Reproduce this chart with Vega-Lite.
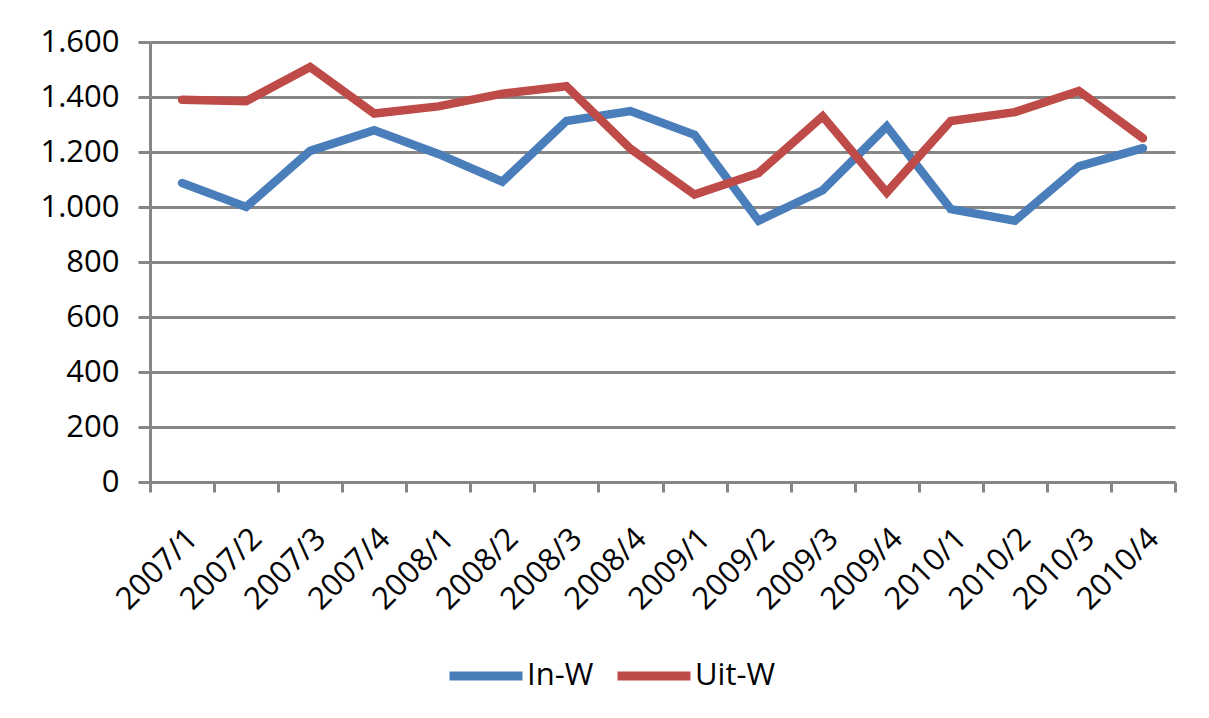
{
  "$schema": "https://vega.github.io/schema/vega-lite/v6.json",
  "width": 1025,
  "height": 440,
  "autosize": {"type": "none"},
  "padding": {"left": 150, "top": 42, "right": 34, "bottom": 236},
  "background": "white",
  "data": {
    "values": [
      {"period": "2007/1", "series": "In-W", "value": 1087},
      {"period": "2007/2", "series": "In-W", "value": 1000},
      {"period": "2007/3", "series": "In-W", "value": 1204},
      {"period": "2007/4", "series": "In-W", "value": 1279},
      {"period": "2008/1", "series": "In-W", "value": 1193},
      {"period": "2008/2", "series": "In-W", "value": 1092},
      {"period": "2008/3", "series": "In-W", "value": 1313},
      {"period": "2008/4", "series": "In-W", "value": 1349},
      {"period": "2009/1", "series": "In-W", "value": 1263},
      {"period": "2009/2", "series": "In-W", "value": 950},
      {"period": "2009/3", "series": "In-W", "value": 1061},
      {"period": "2009/4", "series": "In-W", "value": 1293},
      {"period": "2010/1", "series": "In-W", "value": 992},
      {"period": "2010/2", "series": "In-W", "value": 950},
      {"period": "2010/3", "series": "In-W", "value": 1148},
      {"period": "2010/4", "series": "In-W", "value": 1214},
      {"period": "2007/1", "series": "Uit-W", "value": 1390},
      {"period": "2007/2", "series": "Uit-W", "value": 1385},
      {"period": "2007/3", "series": "Uit-W", "value": 1509},
      {"period": "2007/4", "series": "Uit-W", "value": 1340},
      {"period": "2008/1", "series": "Uit-W", "value": 1366},
      {"period": "2008/2", "series": "Uit-W", "value": 1412},
      {"period": "2008/3", "series": "Uit-W", "value": 1439},
      {"period": "2008/4", "series": "Uit-W", "value": 1212},
      {"period": "2009/1", "series": "Uit-W", "value": 1045},
      {"period": "2009/2", "series": "Uit-W", "value": 1124},
      {"period": "2009/3", "series": "Uit-W", "value": 1330},
      {"period": "2009/4", "series": "Uit-W", "value": 1053},
      {"period": "2010/1", "series": "Uit-W", "value": 1313},
      {"period": "2010/2", "series": "Uit-W", "value": 1345},
      {"period": "2010/3", "series": "Uit-W", "value": 1422},
      {"period": "2010/4", "series": "Uit-W", "value": 1250}
    ]
  },
  "mark": {"type": "line", "strokeWidth": 8.5, "strokeCap": "round", "strokeJoin": "miter"},
  "encoding": {
    "x": {
      "field": "period",
      "type": "ordinal",
      "sort": null,
      "bandPosition": 0.5,
      "scale": {"type": "band", "paddingInner": 0, "paddingOuter": 0},
      "axis": {
        "title": null,
        "tickBand": "extent",
        "grid": false,
        "domainColor": "#868686",
        "domainWidth": 3,
        "tickColor": "#868686",
        "tickWidth": 3,
        "tickSize": 10,
        "labelAngle": -45,
        "labelAlign": "right",
        "labelBaseline": "top",
        "labelPadding": 31,
        "labelDx": 6,
        "labelFont": "Open Sans",
        "labelFontSize": 31,
        "labelColor": "black"
      }
    },
    "y": {
      "field": "value",
      "type": "quantitative",
      "scale": {"domain": [0, 1600], "nice": false},
      "axis": {
        "title": null,
        "values": [0, 200, 400, 600, 800, 1000, 1200, 1400, 1600],
        "labelExpr": "replace(format(datum.value, ','), ',', '.')",
        "domainColor": "#868686",
        "domainWidth": 3,
        "tickColor": "#868686",
        "tickWidth": 3,
        "tickSize": 12,
        "gridColor": "#868686",
        "gridWidth": 3,
        "labelPadding": 19,
        "labelFont": "Open Sans",
        "labelFontSize": 31,
        "labelColor": "black"
      }
    },
    "color": {
      "field": "series",
      "type": "nominal",
      "scale": {"domain": ["In-W", "Uit-W"], "range": ["#4A7EBB", "#BE4B48"]},
      "legend": {
        "title": null,
        "orient": "none",
        "direction": "horizontal",
        "legendX": 295,
        "legendY": 593,
        "symbolType": "stroke",
        "symbolSize": 5329,
        "symbolStrokeWidth": 9,
        "labelFont": "Open Sans",
        "labelFontSize": 31,
        "labelColor": "black",
        "labelOffset": 0,
        "gridAlign": "none",
        "columnPadding": 5
      }
    }
  },
  "config": {"view": {"stroke": null}}
}
